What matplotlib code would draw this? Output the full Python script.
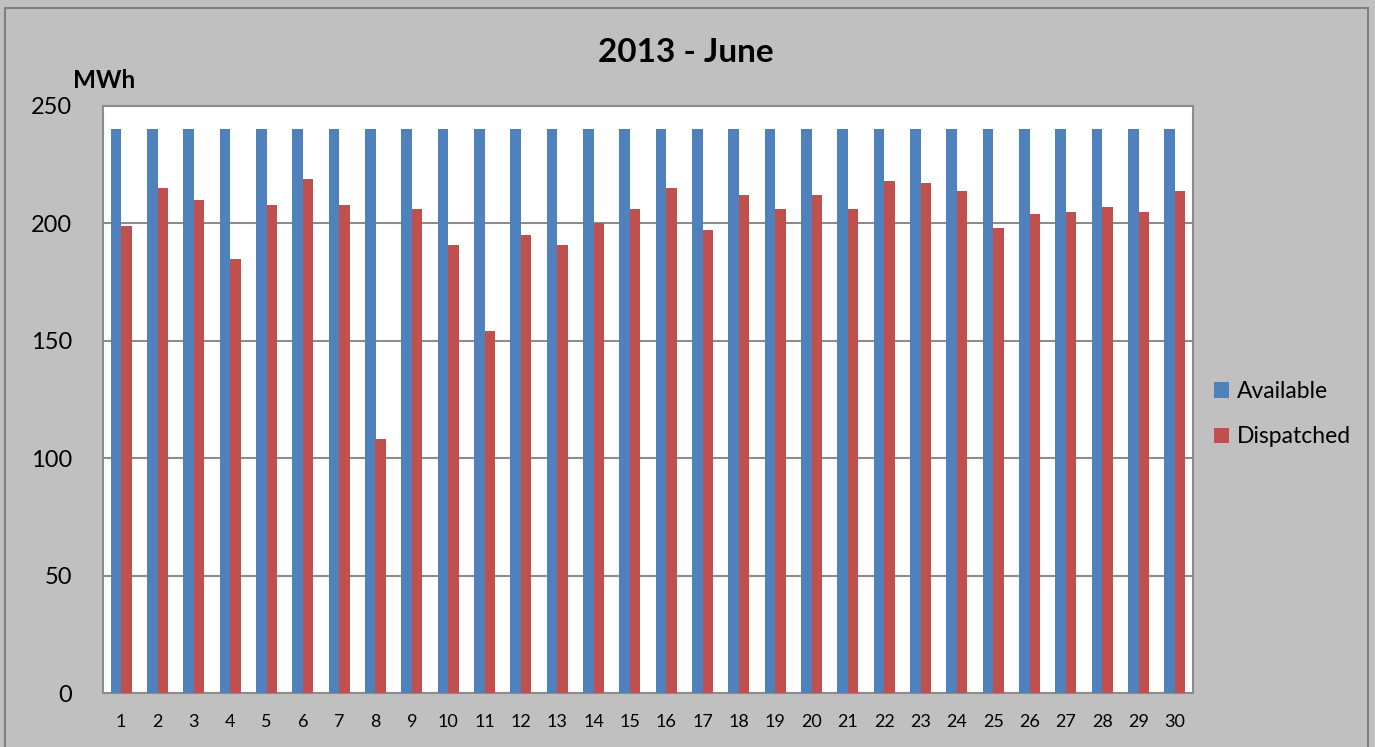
import matplotlib.pyplot as plt
import numpy as np
from matplotlib.patches import Rectangle

# Данные: дни июня 2013
days = list(range(1, 31))
available = [240] * 30
dispatched = [199, 215, 210, 185, 208, 219, 208, 108, 206, 191,
              154, 195, 191, 200, 206, 215, 197, 212, 206, 212,
              206, 218, 217, 214, 198, 204, 205, 207, 205, 214]
y_ticks = [0, 50, 100, 150, 200, 250]

plt.rcParams['font.family'] = ['Lato', 'DejaVu Sans']

fig = plt.figure(figsize=(13.75, 7.47), dpi=100)
fig.patch.set_facecolor('#c0c0c0')

# рамка вокруг области графика
fig.patches.append(Rectangle((5 / 1375, -0.05), 1363 / 1375, 1.05 - 8 / 747,
                             transform=fig.transFigure, fill=False,
                             edgecolor='#7f7f7f', linewidth=1.5))

ax = fig.add_axes([103 / 1375, 54 / 747, 1090 / 1375, 587 / 747])
ax.set_facecolor('white')

x = np.array(days)
w = 0.2857
ax.bar(x - w / 2, available, width=w, color='#4f81bd', label='Available', zorder=3)
ax.bar(x + w / 2, dispatched, width=w, color='#c0504d', label='Dispatched', zorder=3)

ax.set_xlim(0.5, 30.5)
ax.set_ylim(0, 250)
ax.set_yticks(y_ticks)
ax.set_xticks(days)
ax.yaxis.grid(True, color='#8c8c8c', linewidth=1.5, zorder=1)
ax.tick_params(axis='both', length=0)
ax.tick_params(axis='y', labelsize=17, pad=22)
ax.tick_params(axis='x', labelsize=13, pad=15)
for s in ax.spines.values():
    s.set_color('#8c8c8c')
    s.set_linewidth(1.5)

fig.text(686 / 1375, 1 - 53 / 747, '2013 - June', fontsize=24, fontweight='bold',
         ha='center', va='center')
fig.text(104 / 1375, 1 - 81 / 747, 'MWh', fontsize=17.5, fontweight='bold',
         ha='center', va='center')

ax.legend(loc='center left', bbox_to_anchor=(1.0, 0.475), frameon=False,
          fontsize=16.5, handlelength=0.65, handleheight=0.65, handletextpad=0.35,
          labelspacing=1.05)

fig.savefig('out.png', dpi=100, facecolor=fig.get_facecolor())
